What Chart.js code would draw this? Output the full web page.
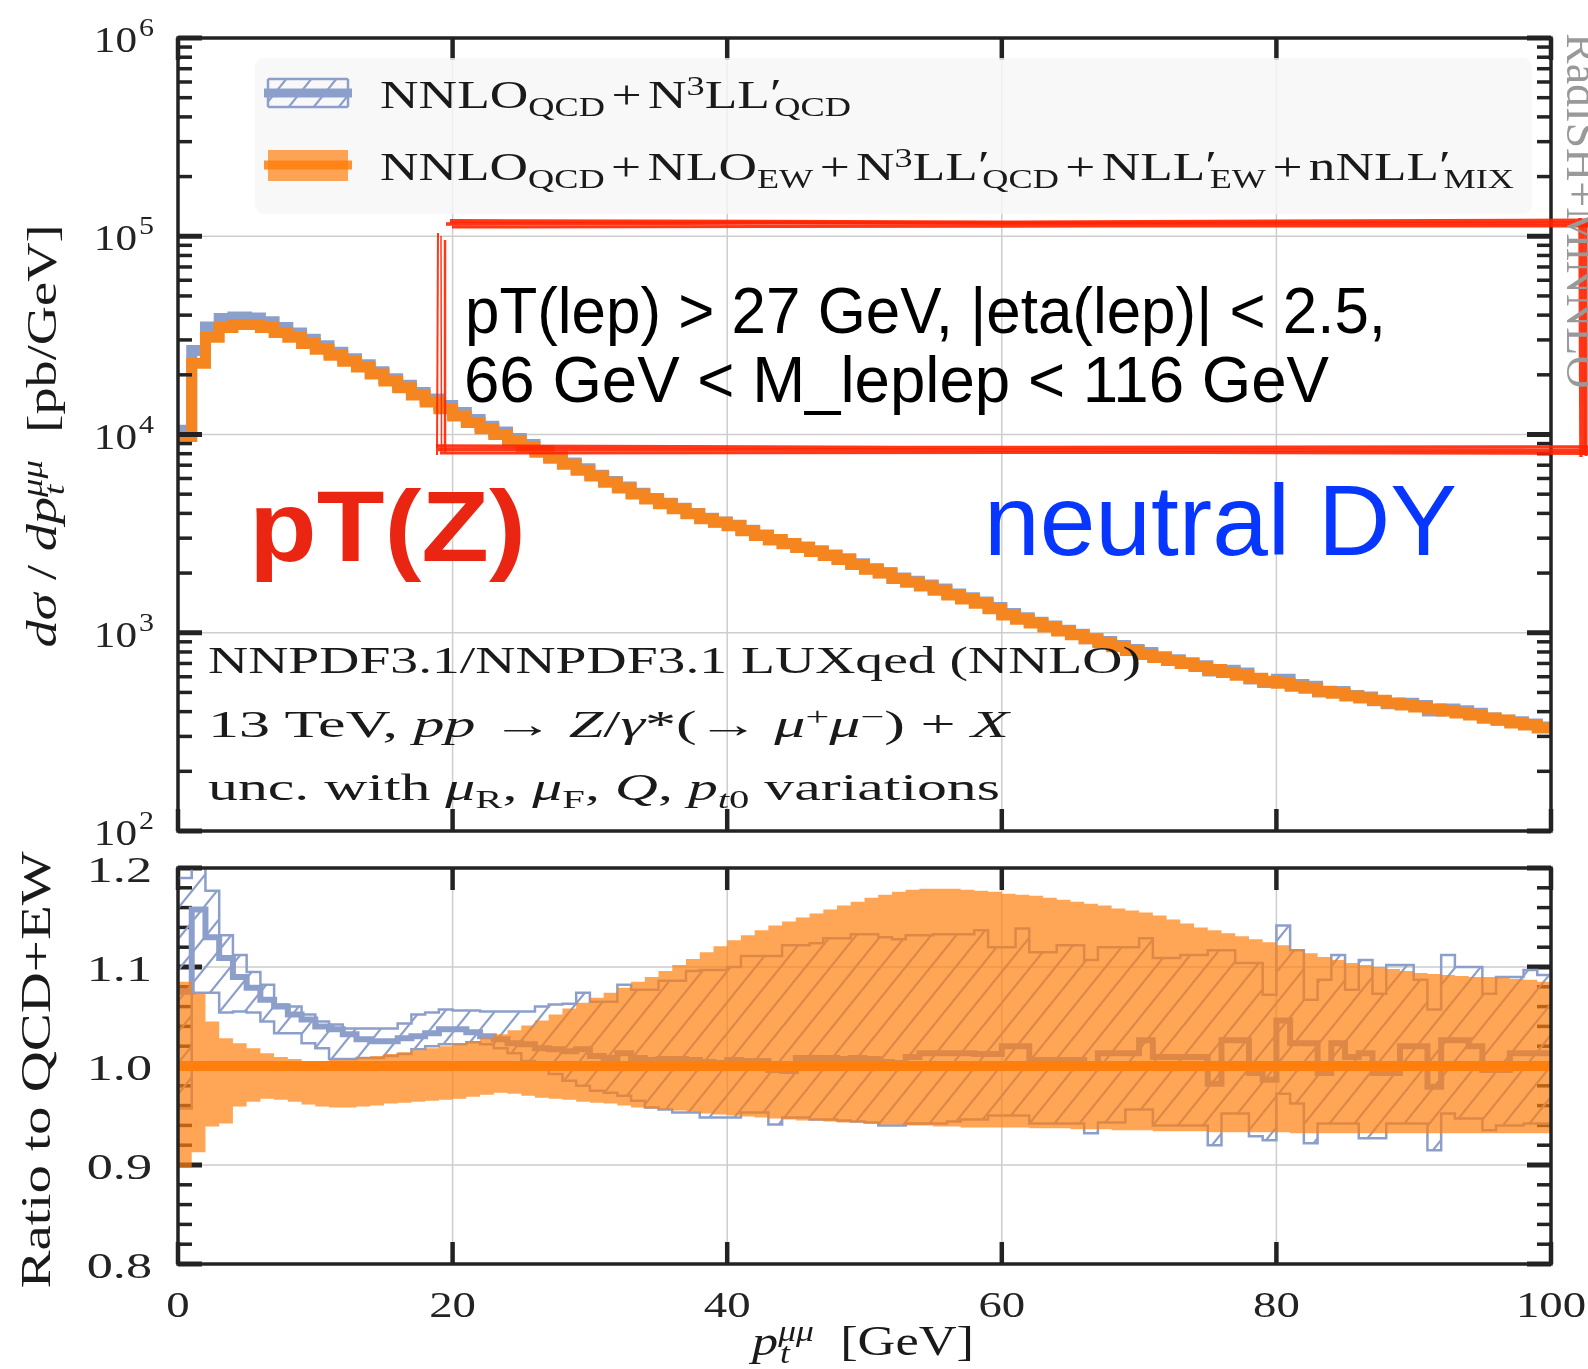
<!DOCTYPE html>
<html>
<head>
<meta charset="utf-8">
<script src="https://cdn.jsdelivr.net/npm/chart.js@4.4.1/dist/chart.umd.min.js"></script>
<style>
  html, body { margin: 0; padding: 0; background: #fff; }
  #wrap { position: relative; width: 1588px; height: 1369px; overflow: hidden; background: #fff; }
  canvas { position: absolute; left: 0; }
  svg { position: absolute; left: 0; top: 0; }
  .tx { position: absolute; left: 0; top: 0; transform-origin: 0 0; white-space: nowrap; line-height: 1.2; }
  .serif { font-family: 'Liberation Serif', 'DejaVu Serif', serif; color: #1a1a1a; }
  .sans { font-family: 'Liberation Sans', Arial, sans-serif; color: #000; }
  .tx sub, .tx sup { font-size: 0.68em; vertical-align: baseline; position: relative; }
  .tx sub { top: 0.32em; }
  .tx sup { top: -0.48em; }
  .bl { display: inline-block; width: 0; height: 0; vertical-align: baseline; }
  .op { margin: 0 0.12em; }
  .stk { display: inline-block; position: relative; }
  .stk .su { font-size: 0.68em; position: relative; top: -0.5em; }
  .stk .sb { font-size: 0.68em; position: absolute; left: 0.05em; top: 0.75em; }
</style>
</head>
<body>
<div id="wrap">
  <canvas id="main" width="1588" height="850" style="top:0"></canvas>
  <canvas id="ratio" width="1588" height="519" style="top:850px"></canvas>
</div>
<script>
// 1 GeV bins in pT of the muon pair
const ptEdges = Array.from({ length: 101 }, (_, i) => i);

// dsigma/dpT [pb/GeV], NNLO_QCD+NLO_EW+N3LL'_QCD+NLL'_EW+nNLL'_MIX
const xsecEw = [
  9770, 22900, 30900, 34700, 35900, 35900, 34700, 32700, 30900, 28800,
  26900, 25100, 23400, 21900, 20200, 18600, 17200, 15800, 14600, 13500,
  12400, 11500, 10700, 10000, 9330, 8710, 8130, 7590, 7080, 6610,
  6170, 5750, 5370, 5010, 4730, 4470, 4220, 3980, 3760, 3610,
  3470, 3270, 3090, 2950, 2820, 2690, 2570, 2450, 2340, 2210,
  2090, 2000, 1880, 1800, 1720, 1640, 1550, 1480, 1410, 1320,
  1230, 1170, 1120, 1070, 1020, 977, 933, 891, 851, 813,
  776, 750, 724, 700, 676, 653, 631, 610, 589, 569,
  556, 537, 525, 507, 495, 479, 468, 457, 442, 432,
  422, 412, 403, 394, 385, 372, 363, 351, 343, 331
];

// dsigma/dpT [pb/GeV], NNLO_QCD+N3LL'_QCD
const xsecQcd = [
  10500, 26500, 34900, 38500, 39100, 38700, 37000, 34700, 32500, 30200,
  28000, 26000, 24100, 22500, 20700, 19100, 17700, 16300, 15100, 14000,
  12900, 11900, 11000, 10300, 9540, 8900, 8280, 7720, 7190, 6720,
  6230, 5800, 5440, 5050, 4760, 4500, 4250, 4000, 3780, 3620,
  3490, 3290, 3110, 2940, 2810, 2710, 2590, 2470, 2360, 2230,
  2100, 2010, 1890, 1820, 1740, 1660, 1570, 1500, 1430, 1340,
  1250, 1190, 1130, 1080, 1030, 983, 933, 903, 862, 824,
  796, 757, 731, 706, 682, 641, 647, 626, 585, 561,
  582, 549, 537, 503, 506, 483, 474, 454, 439, 441,
  430, 403, 413, 404, 393, 371, 362, 356, 347, 335
];

// ratio of the QCD-only prediction to QCD+EW, central value and band
const ratioQcd = [
  1.075, 1.158, 1.130, 1.109, 1.090, 1.079, 1.067, 1.060, 1.052, 1.047,
  1.040, 1.037, 1.032, 1.027, 1.025, 1.025, 1.028, 1.030, 1.033, 1.037,
  1.037, 1.034, 1.030, 1.027, 1.023, 1.022, 1.018, 1.017, 1.015, 1.017,
  1.010, 1.008, 1.013, 1.008, 1.006, 1.007, 1.007, 1.006, 1.004, 1.003,
  1.006, 1.005, 1.005, 0.996, 0.995, 1.008, 1.008, 1.008, 1.007, 1.008,
  1.007, 1.004, 1.003, 1.009, 1.013, 1.013, 1.013, 1.013, 1.012, 1.012,
  1.020, 1.020, 1.006, 1.006, 1.006, 1.006, 1.000, 1.013, 1.013, 1.013,
  1.026, 1.009, 1.009, 1.009, 1.009, 0.982, 1.026, 1.026, 0.993, 0.986,
  1.046, 1.023, 1.023, 0.993, 1.023, 1.009, 1.013, 0.993, 0.993, 1.020,
  1.020, 0.979, 1.026, 1.026, 1.020, 0.996, 0.996, 1.013, 1.013, 1.013
];
const ratioQcdHi = [
  1.190, 1.210, 1.177, 1.132, 1.112, 1.095, 1.082, 1.062, 1.060, 1.052,
  1.045, 1.042, 1.038, 1.038, 1.038, 1.038, 1.043, 1.052, 1.054, 1.057,
  1.056, 1.056, 1.055, 1.055, 1.055, 1.055, 1.060, 1.062, 1.063, 1.074,
  1.065, 1.065, 1.082, 1.077, 1.077, 1.086, 1.086, 1.096, 1.097, 1.097,
  1.100, 1.111, 1.111, 1.111, 1.122, 1.122, 1.124, 1.129, 1.129, 1.133,
  1.133, 1.130, 1.128, 1.132, 1.132, 1.133, 1.133, 1.133, 1.137, 1.120,
  1.120, 1.139, 1.115, 1.115, 1.122, 1.122, 1.107, 1.120, 1.120, 1.120,
  1.129, 1.109, 1.109, 1.112, 1.112, 1.117, 1.117, 1.104, 1.104, 1.072,
  1.142, 1.117, 1.067, 1.087, 1.112, 1.077, 1.107, 1.073, 1.102, 1.102,
  1.087, 1.057, 1.112, 1.100, 1.100, 1.073, 1.090, 1.090, 1.097, 1.092
];
const ratioQcdLo = [
  0.957, 1.074, 1.074, 1.054, 1.055, 1.054, 1.045, 1.033, 1.033, 1.023,
  1.018, 1.007, 1.007, 1.008, 1.008, 1.010, 1.012, 1.017, 1.020, 1.022,
  1.022, 1.024, 1.022, 1.018, 1.013, 1.005, 0.998, 0.992, 0.985, 0.980,
  0.975, 0.973, 0.970, 0.965, 0.958, 0.956, 0.953, 0.953, 0.948, 0.948,
  0.948, 0.953, 0.953, 0.941, 0.948, 0.948, 0.946, 0.946, 0.945, 0.944,
  0.943, 0.940, 0.940, 0.942, 0.942, 0.942, 0.944, 0.946, 0.946, 0.950,
  0.950, 0.950, 0.942, 0.942, 0.942, 0.942, 0.932, 0.943, 0.943, 0.956,
  0.956, 0.940, 0.940, 0.940, 0.940, 0.920, 0.952, 0.952, 0.929, 0.925,
  0.972, 0.962, 0.922, 0.942, 0.942, 0.942, 0.927, 0.927, 0.942, 0.942,
  0.942, 0.915, 0.952, 0.947, 0.947, 0.935, 0.940, 0.940, 0.942, 0.942
];

// QCD+EW scale-variation band relative to its own central value
const ratioEwHi = [
  1.085, 1.073, 1.045, 1.028, 1.023, 1.018, 1.013, 1.009, 1.007, 1.005,
  1.005, 1.006, 1.007, 1.009, 1.010, 1.012, 1.014, 1.016, 1.018, 1.020,
  1.022, 1.025, 1.028, 1.032, 1.036, 1.041, 1.046, 1.052, 1.058, 1.064,
  1.069, 1.074, 1.079, 1.085, 1.090, 1.096, 1.102, 1.108, 1.115, 1.121,
  1.127, 1.132, 1.137, 1.142, 1.146, 1.150, 1.154, 1.158, 1.162, 1.166,
  1.170, 1.173, 1.176, 1.178, 1.179, 1.179, 1.179, 1.178, 1.177, 1.176,
  1.174, 1.173, 1.172, 1.170, 1.168, 1.166, 1.164, 1.162, 1.159, 1.157,
  1.155, 1.152, 1.148, 1.144, 1.140, 1.137, 1.134, 1.131, 1.128, 1.125,
  1.122, 1.118, 1.114, 1.110, 1.107, 1.104, 1.102, 1.100, 1.098, 1.096,
  1.094, 1.093, 1.092, 1.091, 1.090, 1.090, 1.089, 1.088, 1.087, 1.085
];
const ratioEwLo = [
  0.897, 0.913, 0.939, 0.942, 0.959, 0.964, 0.967, 0.966, 0.964, 0.961,
  0.959, 0.958, 0.958, 0.959, 0.960, 0.962, 0.963, 0.964, 0.965, 0.966,
  0.967, 0.969, 0.971, 0.973, 0.972, 0.970, 0.968, 0.967, 0.966, 0.964,
  0.963, 0.962, 0.960, 0.958, 0.957, 0.956, 0.955, 0.954, 0.952, 0.951,
  0.950, 0.949, 0.948, 0.947, 0.946, 0.945, 0.945, 0.944, 0.943, 0.943,
  0.942, 0.941, 0.941, 0.940, 0.940, 0.939, 0.939, 0.938, 0.938, 0.938,
  0.938, 0.938, 0.937, 0.937, 0.937, 0.936, 0.936, 0.936, 0.935, 0.935,
  0.935, 0.934, 0.934, 0.934, 0.934, 0.933, 0.933, 0.933, 0.933, 0.933,
  0.933, 0.932, 0.932, 0.932, 0.932, 0.932, 0.932, 0.932, 0.932, 0.932,
  0.932, 0.932, 0.932, 0.932, 0.932, 0.932, 0.932, 0.932, 0.932, 0.932
];
// the reference curve divided by itself
const ratioRef = xsecEw.map(() => 1);

const xTicks = [0, 20, 40, 60, 80, 100];
const logDecades = [2, 3, 4, 5, 6];
const ratioTicks = [0.8, 0.9, 1.0, 1.1, 1.2];

const BLUE = '#8c9fcb';
const ORANGE = '#ff7f0e';
const INK = '#232323';
const GRID = '#cdcdcd';
const SERIF = '"Liberation Serif", "DejaVu Serif", serif';

function stepPoints(vals) {
  const pts = vals.map((v, i) => ({ x: ptEdges[i], y: v }));
  pts.push({ x: ptEdges[vals.length], y: vals[vals.length - 1] });
  return pts;
}

function seg(ctx, x1, y1, x2, y2, w) {
  ctx.lineWidth = w;
  ctx.beginPath(); ctx.moveTo(x1, y1); ctx.lineTo(x2, y2); ctx.stroke();
}

function drawGrid(chart, xs, ys) {
  const { ctx, chartArea: a, scales: { x, y } } = chart;
  ctx.save();
  ctx.strokeStyle = GRID;
  xs.forEach(v => { const p = x.getPixelForValue(v); seg(ctx, p, a.top, p, a.bottom, 1.5); });
  ys.forEach(v => { const p = y.getPixelForValue(v); seg(ctx, a.left, p, a.right, p, 1.5); });
  ctx.restore();
}

function drawTicks(chart, yMajor, yMinor) {
  const { ctx, chartArea: a, scales: { x, y } } = chart;
  ctx.save();
  ctx.strokeStyle = INK;
  ctx.lineCap = 'butt';
  yMajor.forEach(v => {
    const p = y.getPixelForValue(v);
    seg(ctx, a.left, p, a.left + 24, p, 5);
    seg(ctx, a.right - 24, p, a.right, p, 5);
  });
  yMinor.forEach(v => {
    const p = y.getPixelForValue(v);
    seg(ctx, a.left, p, a.left + 14, p, 3.5);
    seg(ctx, a.right - 14, p, a.right, p, 3.5);
  });
  xTicks.forEach(v => {
    const p = x.getPixelForValue(v);
    seg(ctx, p, a.top, p, a.top + 22, 4.5);
    seg(ctx, p, a.bottom - 22, p, a.bottom, 4.5);
  });
  ctx.restore();
}

function drawFrame(chart) {
  const { ctx, chartArea: a } = chart;
  ctx.save();
  ctx.strokeStyle = INK;
  ctx.lineWidth = 3.5;
  ctx.strokeRect(a.left, a.top, a.right - a.left, a.bottom - a.top);
  ctx.restore();
}

function stretchedText(ctx, text, x, y, size, stretch) {
  ctx.save();
  ctx.font = size + 'px ' + SERIF;
  ctx.textAlign = 'left';
  ctx.textBaseline = 'alphabetic';
  ctx.translate(x, y);
  ctx.scale(stretch, 1);
  ctx.fillText(text, 0, 0);
  ctx.restore();
}

function textWidth(ctx, text, size, stretch) {
  ctx.save();
  ctx.font = size + 'px ' + SERIF;
  const w = ctx.measureText(text).width * stretch;
  ctx.restore();
  return w;
}

function makeHatch() {
  const w = 25, h = 31;
  const c = document.createElement('canvas');
  c.width = w; c.height = h;
  const g = c.getContext('2d');
  g.strokeStyle = BLUE;
  g.lineWidth = 2.2;
  for (const k of [-1, 0, 1]) {
    g.beginPath();
    g.moveTo(k * w - 0.2 * w, 1.2 * h);
    g.lineTo(k * w + 1.2 * w, -0.2 * h);
    g.stroke();
  }
  return c.getContext('2d').createPattern(c, 'repeat');
}
const hatch = makeHatch();

const logMinor = [];
logDecades.slice(0, -1).forEach(d => { for (let m = 2; m <= 9; m++) logMinor.push(m * Math.pow(10, d)); });
const ratioMinor = [];
for (let k = 41; k < 60; k++) if (k % 5 !== 0) ratioMinor.push(k / 50);

function roundRect(ctx, x, y, w, h, r) {
  ctx.beginPath();
  ctx.moveTo(x + r, y);
  ctx.arcTo(x + w, y, x + w, y + h, r);
  ctx.arcTo(x + w, y + h, x, y + h, r);
  ctx.arcTo(x, y + h, x, y, r);
  ctx.arcTo(x, y, x + w, y, r);
  ctx.closePath();
}

const mainDecor = {
  id: 'mainDecor',
  beforeDatasetsDraw(chart) {
    drawGrid(chart, [20, 40, 60, 80], [1e3, 1e4, 1e5]);
  },
  afterDatasetsDraw(chart) {
    drawTicks(chart, logDecades.map(d => Math.pow(10, d)), logMinor);
    drawFrame(chart);
  },
  afterDraw(chart) {
    const { ctx, scales: { y } } = chart;
    // legend frame and swatches
    ctx.save();
    ctx.fillStyle = 'rgba(246,246,246,0.82)';
    roundRect(ctx, 255, 58, 1277, 156, 9);
    ctx.fill();
    ctx.fillStyle = hatch;
    ctx.fillRect(268, 79, 80, 28);
    ctx.strokeStyle = BLUE;
    seg(ctx, 268, 79, 348, 79, 2.5);
    seg(ctx, 268, 107, 348, 107, 2.5);
    seg(ctx, 268, 79, 268, 107, 2.5);
    seg(ctx, 348, 79, 348, 107, 2.5);
    seg(ctx, 264, 93, 352, 93, 9);
    ctx.fillStyle = 'rgba(255,127,14,0.7)';
    ctx.fillRect(268, 150, 80, 31);
    ctx.strokeStyle = ORANGE;
    ctx.globalAlpha = 0.85;
    seg(ctx, 264, 165, 352, 165, 9);
    ctx.restore();
    // 10^n tick labels
    ctx.save();
    ctx.fillStyle = INK;
    logDecades.forEach(d => {
      const p = y.getPixelForValue(Math.pow(10, d));
      const exp = String(d);
      const we = textWidth(ctx, exp, 25, 1.2);
      const wb = textWidth(ctx, '10', 36, 1.2);
      stretchedText(ctx, exp, 154 - we, p - 2, 25, 1.2);
      stretchedText(ctx, '10', 154 - we - 2 - wb, p + 14, 36, 1.2);
    });
    ctx.restore();
  }
};

const ratioDecor = {
  id: 'ratioDecor',
  beforeDatasetsDraw(chart) {
    drawGrid(chart, [20, 40, 60, 80], [0.9, 1.0, 1.1]);
    drawTicks(chart, ratioTicks, ratioMinor);
  },
  afterDatasetsDraw(chart) {
    drawFrame(chart);
  },
  afterDraw(chart) {
    const { ctx, scales: { x, y } } = chart;
    ctx.save();
    ctx.fillStyle = INK;
    ratioTicks.forEach(v => {
      const t = v.toFixed(1);
      const w = textWidth(ctx, t, 36, 1.45);
      stretchedText(ctx, t, 152 - w, y.getPixelForValue(v) + 14, 36, 1.45);
    });
    xTicks.forEach(v => {
      const t = String(v);
      const w = textWidth(ctx, t, 36, 1.3);
      stretchedText(ctx, t, x.getPixelForValue(v) - w / 2, 467, 36, 1.3);
    });
    ctx.restore();
  }
};

const lineBase = { pointRadius: 0, stepped: 'before', borderJoinStyle: 'miter', borderCapStyle: 'butt', fill: false };

new Chart(document.getElementById('main'), {
  type: 'line',
  data: {
    datasets: [
      { ...lineBase, label: 'QCD+EW', data: stepPoints(xsecEw), borderColor: '#f5861f', borderWidth: 11 },
      { ...lineBase, label: 'QCD', data: stepPoints(xsecQcd), borderColor: BLUE, borderWidth: 11 }
    ]
  },
  options: {
    responsive: false,
    animation: false,
    devicePixelRatio: 1,
    layout: { padding: { left: 178, right: 37, top: 38, bottom: 19 } },
    scales: {
      x: { type: 'linear', min: 0, max: 100, display: false },
      y: { type: 'logarithmic', min: 100, max: 1e6, display: false }
    },
    plugins: { legend: { display: false }, tooltip: { enabled: false } }
  },
  plugins: [mainDecor]
});

new Chart(document.getElementById('ratio'), {
  type: 'line',
  data: {
    datasets: [
      { ...lineBase, label: 'QCD+EW', data: stepPoints(ratioRef), borderColor: ORANGE, borderWidth: 10 },
      { ...lineBase, label: 'QCD+EW low', data: stepPoints(ratioEwLo), borderColor: 'transparent', borderWidth: 0 },
      { ...lineBase, label: 'QCD+EW high', data: stepPoints(ratioEwHi), borderColor: 'transparent', borderWidth: 0,
        fill: '-1', backgroundColor: 'rgba(255,127,14,0.7)' },
      { ...lineBase, label: 'QCD', data: stepPoints(ratioQcd), borderColor: BLUE, borderWidth: 6 },
      { ...lineBase, label: 'QCD low', data: stepPoints(ratioQcdLo), borderColor: BLUE, borderWidth: 2.5 },
      { ...lineBase, label: 'QCD high', data: stepPoints(ratioQcdHi), borderColor: BLUE, borderWidth: 2.5,
        fill: '-1', backgroundColor: hatch }
    ]
  },
  options: {
    responsive: false,
    animation: false,
    devicePixelRatio: 1,
    layout: { padding: { left: 178, right: 37, top: 18, bottom: 105 } },
    scales: {
      x: { type: 'linear', min: 0, max: 100, display: false },
      y: { type: 'linear', min: 0.8, max: 1.2, display: false }
    },
    plugins: { legend: { display: false }, tooltip: { enabled: false } }
  },
  plugins: [ratioDecor]
});

// hand-drawn marker box around the fiducial cuts
const svgNS = 'http://www.w3.org/2000/svg';
const svg = document.createElementNS(svgNS, 'svg');
svg.setAttribute('width', 1588);
svg.setAttribute('height', 1369);
[
  ['M 450 221 L 1000 222.5 L 1588 220.5', 4],
  ['M 446 224 L 800 223 L 1588 223.5', 3.5],
  ['M 452 227 L 1100 226 L 1588 226', 3],
  ['M 1580 218 L 1581 457', 3.5],
  ['M 1583 220 L 1584 455', 3.5],
  ['M 1586 219 L 1586 456', 3],
  ['M 436 446 L 900 447.5 L 1588 447', 3.5],
  ['M 438 449.5 L 1588 450.5', 3.5],
  ['M 440 453 L 1200 452.5 L 1588 453.5', 3],
  ['M 438 233 L 437 455', 2],
  ['M 441 236 L 441.5 452', 1.5],
  ['M 445 240 L 445 452', 2.5]
].forEach(([d, w]) => {
  const p = document.createElementNS(svgNS, 'path');
  p.setAttribute('d', d);
  p.setAttribute('stroke', '#ff2200');
  p.setAttribute('stroke-width', w);
  p.setAttribute('fill', 'none');
  p.setAttribute('stroke-opacity', '0.9');
  svg.appendChild(p);
});
document.getElementById('wrap').appendChild(svg);

// text overlays: x/y give the start of the baseline; w the stretched length
const wrap = document.getElementById('wrap');
function putText(s) {
  const el = document.createElement('div');
  el.className = 'tx ' + s.cls;
  el.style.fontSize = s.size + 'px';
  if (s.color) el.style.color = s.color;
  if (s.bold) el.style.fontWeight = 'bold';
  el.innerHTML = s.html + '<span class="bl"></span>';
  wrap.appendChild(el);
  const b = el.querySelector('.bl').offsetTop;
  const w = el.getBoundingClientRect().width;
  const k = s.w ? s.w / w : 1;
  if (s.rot === -90) {
    el.style.transform = `translate(${s.x}px, ${s.y + s.w / 2}px) rotate(-90deg) scaleX(${k}) translate(0, ${-b}px)`;
  } else if (s.rot === 90) {
    el.style.transform = `translate(${s.x}px, ${s.y}px) rotate(90deg) scaleX(${k}) translate(0, ${-b}px)`;
  } else {
    el.style.transform = `translate(${s.x}px, ${s.y}px) scaleX(${k}) translate(0, ${-b}px)`;
  }
}

const prime = '<span style="position:relative;top:-0.05em">′</span>';
const primeSub = t => prime + '<sub style="margin-left:-0.2em">' + t + '</sub>';
const plus = '<span class="op">+</span>';
const ptmumu = '<i>p</i><span class="stk"><span class="su"><i>μμ</i></span><span class="sb"><i>t</i></span></span>';

[
  { cls: 'serif', size: 39, x: 380, y: 108, w: 471,
    html: 'NNLO<sub>QCD</sub>' + plus + 'N<sup>3</sup>LL' + primeSub('QCD') },
  { cls: 'serif', size: 39, x: 380, y: 180, w: 1134,
    html: 'NNLO<sub>QCD</sub>' + plus + 'NLO<sub>EW</sub>' + plus + 'N<sup>3</sup>LL' + primeSub('QCD') +
          plus + 'NLL' + primeSub('EW') + plus + 'nNLL' + primeSub('MIX') },
  { cls: 'sans', size: 64, x: 465, y: 333, w: 921, html: 'pT(lep) &gt; 27 GeV, |eta(lep)| &lt; 2.5,' },
  { cls: 'sans', size: 64, x: 464, y: 402, w: 865, html: '66 GeV &lt; M_leplep &lt; 116 GeV' },
  { cls: 'sans', size: 100, x: 249, y: 561, w: 277, bold: true, color: '#ea2512', html: 'pT(Z)' },
  { cls: 'sans', size: 100, x: 984, y: 555, w: 473, color: '#0636ff', html: 'neutral DY' },
  { cls: 'serif', size: 37, x: 208, y: 673, w: 933, html: 'NNPDF3.1/NNPDF3.1 LUXqed (NNLO)' },
  { cls: 'serif', size: 37, x: 208, y: 737, w: 801,
    html: '13 TeV, <i>pp</i> → <i>Z</i>/<i>γ</i>*(→ <i>μ</i><sup>+</sup><i>μ</i><sup>−</sup>) + <i>X</i>' },
  { cls: 'serif', size: 37, x: 208, y: 800, w: 792,
    html: 'unc. with <i>μ</i><sub>R</sub>, <i>μ</i><sub>F</sub>, <i>Q</i>, <i>p</i><sub><i>t</i>0</sub> variations' },
  { cls: 'serif', size: 42, x: 56, y: 436, w: 423, rot: -90,
    html: '<i>dσ</i> / <i>d</i>' + ptmumu + '&nbsp;&nbsp;[pb/GeV]' },
  { cls: 'serif', size: 42, x: 50, y: 1070, w: 437, rot: -90, html: 'Ratio to QCD+EW' },
  { cls: 'serif', size: 42, x: 752, y: 1355, w: 222, html: ptmumu + '&nbsp;&nbsp;[GeV]' },
  { cls: 'serif', size: 46, x: 1567, y: 33, rot: 90, color: '#999999', html: 'RadISH+MiNNLO' }
].forEach(putText);
</script>
</body>
</html>
